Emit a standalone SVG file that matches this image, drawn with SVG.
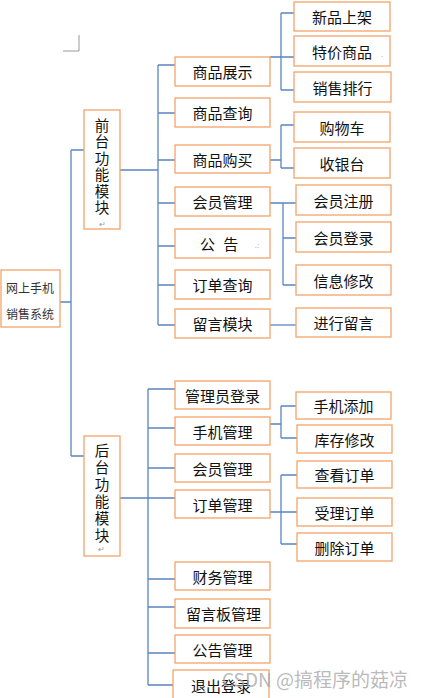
<svg xmlns="http://www.w3.org/2000/svg" width="428" height="698" viewBox="0 0 428 698">
<style>
.b{fill:#fff;stroke:#F2A46A;stroke-width:1.3}
.t{font-family:"Noto Sans CJK SC","Liberation Sans",sans-serif;font-size:15px;fill:#111;text-anchor:middle;dominant-baseline:central}
.v{font-family:"Noto Sans CJK SC","Liberation Sans",sans-serif;font-size:14.5px;fill:#111;writing-mode:vertical-rl;text-anchor:start}
.r{font-size:12px;fill:#333}
.m{font-family:"Liberation Sans",sans-serif;font-size:8px;fill:#999}
.c{fill:none;stroke:#5A85C0;stroke-width:1.3}
</style>
<rect width="428" height="698" fill="#fff"/>
<path d="M63,51 H79 V35" fill="none" stroke="#999" stroke-width="1"/>
<g id="connectors" class="c">
<path d="M60,302 H71 M71,150 V456 M71,150 H84 M71,456 H84"/>
<path d="M120,170 H158 M158,65 V325 M158,65 H175 M158,113 H175 M158,160 H175 M158,203 H175 M158,246 H175 M158,285 H175 M158,325 H175"/>
<path d="M270,57 H294 M281,13 V90 M281,13 H294 M281,90 H294"/>
<path d="M270,160 H281 M281,125 V168 M281,125 H294 M281,168 H294"/>
<path d="M270,203 H296 M283,203 V285 M283,238 H296 M283,285 H296"/>
<path d="M270,325 H296"/>
<path d="M120,498 H175 M148,389 V685 M148,389 H175 M148,428 H175 M148,468 H175 M148,579 H175 M148,607 H175 M148,653 H175 M148,685 H173"/>
<path d="M270,424 H281 M281,406 V438 M281,406 H296 M281,438 H297"/>
<path d="M270,512 H297 M281,475 V544 M281,475 H297 M281,544 H297"/>
</g>
<g id="root"><rect class="b" x="1" y="270" width="59" height="57"/><text class="t r" x="30" y="287">网上手机</text><text class="t r" x="30" y="313">销售系统</text></g>
<g id="front"><rect class="b" x="84" y="110" width="36" height="119"/>
<text class="v" x="102" y="118" style="letter-spacing:2px">前台功能模块</text><text class="t m" x="102" y="224">↵</text></g>
<g id="back"><rect class="b" x="84" y="436" width="36" height="120"/>
<text class="v" x="102" y="443" style="letter-spacing:2.5px">后台功能模块</text><text class="t m" x="101" y="549">↵</text></g>
<g id="f1"><rect class="b" x="175" y="57" width="95" height="29"/><text class="t" x="222.5" y="71.5">商品展示</text></g>
<g id="f2"><rect class="b" x="175" y="98" width="95" height="29"/><text class="t" x="222.5" y="112.5">商品查询</text></g>
<g id="f3"><rect class="b" x="175" y="145" width="95" height="28"/><text class="t" x="222.5" y="159">商品购买</text></g>
<g id="f4"><rect class="b" x="175" y="187" width="95" height="29"/><text class="t" x="222.5" y="201.5">会员管理</text></g>
<g id="f5"><rect class="b" x="175" y="229" width="95" height="29"/><text class="t" x="200" y="243.5" style="text-anchor:start" word-spacing="5">公 告</text><text class="t m" x="257" y="245">.:</text></g>
<g id="f6"><rect class="b" x="175" y="270" width="95" height="29"/><text class="t" x="222.5" y="284.5">订单查询</text></g>
<g id="f7"><rect class="b" x="175" y="309" width="95" height="29"/><text class="t" x="222.5" y="323.5">留言模块</text></g>
<g id="l1"><rect class="b" x="294" y="2" width="96" height="29"/><text class="t" x="342" y="16.5">新品上架</text></g>
<g id="l2"><rect class="b" x="294" y="36" width="96" height="30"/><text class="t" x="342" y="51">特价商品</text><text class="t m" x="382" y="54">.</text></g>
<g id="l3"><rect class="b" x="294" y="72" width="97" height="30"/><text class="t" x="342.5" y="87">销售排行</text></g>
<g id="l4"><rect class="b" x="294" y="112" width="96" height="30"/><text class="t" x="342" y="127">购物车</text></g>
<g id="l5"><rect class="b" x="294" y="148" width="96" height="30"/><text class="t" x="342" y="163">收银台</text></g>
<g id="l6"><rect class="b" x="296" y="185" width="95" height="30"/><text class="t" x="343.5" y="200">会员注册</text></g>
<g id="l7"><rect class="b" x="296" y="222" width="95" height="30"/><text class="t" x="343.5" y="237">会员登录</text></g>
<g id="l8"><rect class="b" x="296" y="265" width="95" height="30"/><text class="t" x="343.5" y="280">信息修改</text></g>
<g id="l9"><rect class="b" x="296" y="308" width="95" height="29"/><text class="t" x="343.5" y="322.5">进行留言</text></g>
<g id="b1"><rect class="b" x="175" y="381" width="95" height="28"/><text class="t" x="222.5" y="395">管理员登录</text></g>
<g id="b2"><rect class="b" x="175" y="417" width="95" height="28"/><text class="t" x="222.5" y="431">手机管理</text></g>
<g id="b3"><rect class="b" x="175" y="454" width="95" height="28"/><text class="t" x="222.5" y="468">会员管理</text></g>
<g id="b4"><rect class="b" x="175" y="490" width="95" height="28"/><text class="t" x="222.5" y="504">订单管理</text></g>
<g id="b5"><rect class="b" x="175" y="562" width="95" height="28"/><text class="t" x="222.5" y="576">财务管理</text></g>
<g id="b6"><rect class="b" x="175" y="599" width="95" height="29"/><text class="t" x="223.5" y="613.5">留言板管理</text></g>
<g id="b7"><rect class="b" x="175" y="635" width="95" height="28"/><text class="t" x="222.5" y="649">公告管理</text></g>
<g id="b8"><rect class="b" x="173" y="670" width="96" height="40"/><text class="t" x="221" y="685">退出登录</text></g>
<g id="k1"><rect class="b" x="296" y="392" width="95" height="27"/><text class="t" x="343.5" y="405.5">手机添加</text></g>
<g id="k2"><rect class="b" x="297" y="425" width="95" height="28"/><text class="t" x="344.5" y="439">库存修改</text></g>
<g id="k3"><rect class="b" x="297" y="461" width="95" height="27"/><text class="t" x="344.5" y="474.5">查看订单</text></g>
<g id="k4"><rect class="b" x="297" y="498" width="95" height="28"/><text class="t" x="344.5" y="512">受理订单</text></g>
<g id="k5"><rect class="b" x="297" y="533" width="95" height="28"/><text class="t" x="344.5" y="547">删除订单</text></g>
<text x="222" y="687" font-family="Noto Sans CJK SC, Liberation Sans, sans-serif" font-size="19" fill="#a8a8a8" fill-opacity="0.8">CSDN @搞程序的菇凉</text>
</svg>
